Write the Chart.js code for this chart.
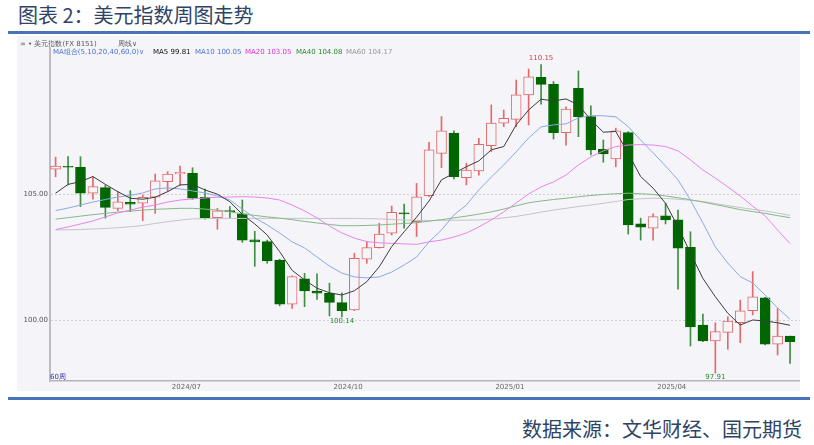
<!DOCTYPE html>
<html>
<head>
<meta charset="utf-8">
<script src="https://cdn.jsdelivr.net/npm/chart.js@4.4.1/dist/chart.umd.min.js"></script>
<style>
    html, body { margin: 0; padding: 0; background: #fff; }
    body { width: 814px; height: 445px; position: relative; overflow: hidden; font-family: "DejaVu Sans", sans-serif; }
    .title { position: absolute; left: 18px; top: 1px; font-size: 20px; line-height: 28px; font-family: "Noto Sans CJK SC", sans-serif; color: #2e4466; white-space: nowrap; }
    .rule { position: absolute; left: 8px; width: 802px; height: 3px; background: #4a72b8; }
    .panel { position: absolute; left: 17px; top: 36px; width: 783px; height: 355px; background: #f4f4f9; }
    .small { position: absolute; font-size: 7px; line-height: 9px; white-space: nowrap; }
    .source { position: absolute; right: 12px; top: 415px; font-size: 20px; line-height: 28px; font-family: "Noto Sans CJK SC", sans-serif; color: #2e4466; white-space: nowrap; }
    #chartWrap { position: absolute; left: 17px; top: 36px; width: 783px; height: 355px; }
</style>
</head>
<body>
<div class="title">图表 2：美元指数周图走势</div>
<div class="rule" style="top:31px"></div>
<div class="panel"></div>
<div id="chartWrap"><canvas id="dxyChart" width="783" height="355"></canvas></div>
<div class="small" style="left:20px; top:39.5px; color:#555">∞ • 美元指数(FX 8151)</div>
<div class="small" style="left:118px; top:39.5px; color:#555">周线∨</div>
<div id="maLegend"></div>
<div class="small" style="left:50px; top:372.5px; color:#3535a8">60周</div>
<div class="rule" style="top:397px"></div>
<div class="source">数据来源：文华财经、国元期货</div>

<script>
// Weekly bars (Monday of each week)
const weeks = [
    '2024-04-15', '2024-04-22', '2024-04-29', '2024-05-06', '2024-05-13', '2024-05-20', '2024-05-27',
    '2024-06-03', '2024-06-10', '2024-06-17', '2024-06-24', '2024-07-01', '2024-07-08', '2024-07-15',
    '2024-07-22', '2024-07-29', '2024-08-05', '2024-08-12', '2024-08-19', '2024-08-26', '2024-09-02',
    '2024-09-09', '2024-09-16', '2024-09-23', '2024-09-30', '2024-10-07', '2024-10-14', '2024-10-21',
    '2024-10-28', '2024-11-04', '2024-11-11', '2024-11-18', '2024-11-25', '2024-12-02', '2024-12-09',
    '2024-12-16', '2024-12-23', '2024-12-30', '2025-01-06', '2025-01-13', '2025-01-20', '2025-01-27',
    '2025-02-03', '2025-02-10', '2025-02-17', '2025-02-24', '2025-03-03', '2025-03-10', '2025-03-17',
    '2025-03-24', '2025-03-31', '2025-04-07', '2025-04-14', '2025-04-21', '2025-04-28', '2025-05-05',
    '2025-05-12', '2025-05-19', '2025-05-26', '2025-06-02'
];

const opens = [
    106.00, 106.12, 106.08, 105.05, 105.27, 104.45, 104.69, 104.65, 104.89, 105.51,
    105.81, 105.84, 104.89, 104.08, 104.36, 104.23, 103.20, 103.13, 102.40, 100.65,
    101.65, 101.17, 101.08, 100.71, 100.42, 102.43, 102.89, 103.46, 104.27, 103.92,
    104.95, 106.63, 107.43, 105.67, 105.93, 106.94, 107.83, 107.98, 108.95, 109.65,
    109.37, 107.45, 109.21, 108.09, 106.79, 106.41, 107.45, 103.83, 103.66, 104.15,
    103.99, 102.90, 99.82, 99.19, 99.53, 99.91, 100.39, 100.90, 99.06, 99.38
];
const highs = [
    106.48, 106.50, 106.50, 105.71, 105.38, 105.11, 105.15, 104.98, 105.81, 105.90,
    106.13, 106.06, 105.21, 104.45, 104.52, 104.78, 103.54, 103.19, 102.43, 101.77,
    101.87, 101.85, 101.48, 101.10, 102.67, 103.13, 103.86, 104.54, 104.62, 105.44,
    107.07, 108.09, 107.52, 106.24, 107.23, 108.55, 108.35, 109.54, 109.98, 110.15,
    109.48, 108.48, 109.90, 108.52, 107.16, 107.63, 107.49, 104.06, 104.23, 104.65,
    104.38, 103.52, 100.25, 99.91, 100.15, 100.81, 101.94, 100.92, 100.48, 99.38
];
const lows = [
    105.70, 105.38, 104.52, 104.81, 104.06, 104.36, 104.32, 103.96, 104.25, 105.11,
    105.35, 104.81, 104.02, 103.62, 104.06, 103.10, 102.15, 102.27, 100.58, 100.48,
    100.55, 100.84, 100.18, 100.14, 100.39, 102.27, 102.87, 103.39, 103.66, 103.33,
    104.91, 106.06, 105.62, 105.38, 105.77, 106.70, 107.69, 107.69, 107.76, 108.58,
    107.20, 106.96, 107.29, 106.57, 106.28, 106.10, 103.43, 103.19, 103.19, 103.83,
    101.24, 98.99, 99.16, 97.91, 98.86, 99.12, 100.22, 99.03, 98.63, 98.30
];
const closes = [
    106.13, 106.08, 105.05, 105.31, 104.49, 104.71, 104.61, 104.89, 105.54, 105.81,
    105.88, 104.85, 104.08, 104.35, 104.32, 103.19, 103.12, 102.36, 100.65, 101.74,
    101.17, 101.08, 100.72, 100.39, 102.47, 102.89, 103.43, 104.29, 104.23, 104.91,
    106.77, 107.52, 105.71, 105.97, 106.99, 107.83, 108.02, 108.95, 109.67, 109.37,
    107.45, 108.39, 108.09, 106.77, 106.61, 107.52, 103.79, 103.70, 104.12, 103.99,
    102.87, 99.75, 99.19, 99.56, 99.98, 100.38, 100.94, 99.06, 99.38, 99.16
];

// Moving averages as they appear on the chart
const ma5 = [
    105.05, 105.40, 105.51, 105.71, 105.40, 105.11, 104.85, 104.81, 104.89, 105.11,
    105.38, 105.40, 105.18, 105.01, 104.71, 104.21, 103.83, 103.39, 102.73, 101.99,
    101.61, 101.28, 101.10, 101.01, 101.18, 101.54, 102.13, 102.93, 103.52, 104.10,
    104.74, 105.58, 105.84, 106.10, 106.33, 106.77, 106.90, 107.76, 108.35, 108.78,
    108.71, 108.79, 108.55, 107.96, 107.47, 107.50, 106.63, 105.71, 105.25, 104.65,
    103.72, 102.67, 101.67, 100.94, 100.29, 99.82, 100.02, 99.98, 99.91, 99.81
];
const ma10 = [
    104.36, 104.46, 104.58, 104.70, 104.80, 104.90, 104.96, 105.06, 105.22, 105.26,
    105.22, 105.14, 105.06, 104.94, 104.78, 104.42, 104.07, 103.79, 103.47, 103.12,
    102.88, 102.52, 102.16, 101.88, 101.73, 101.69, 101.73, 101.92, 102.20, 102.52,
    103.12, 103.59, 104.19, 104.58, 105.18, 105.69, 106.17, 106.69, 107.24, 107.68,
    107.76, 107.80, 108.04, 108.13, 108.12, 108.08, 107.69, 107.16, 106.65, 106.13,
    105.58, 104.78, 103.87, 102.92, 102.28, 101.74, 101.49, 101.01, 100.50, 100.05
];
const ma20 = [
    103.61, 103.71, 103.83, 103.95, 104.11, 104.27, 104.38, 104.50, 104.58, 104.70,
    104.78, 104.82, 104.86, 104.89, 104.90, 104.91, 104.90, 104.86, 104.78, 104.58,
    104.35, 104.07, 103.75, 103.47, 103.27, 103.13, 103.08, 103.06, 103.04, 103.02,
    103.12, 103.19, 103.31, 103.47, 103.71, 103.99, 104.31, 104.66, 105.02, 105.30,
    105.50, 105.77, 106.17, 106.49, 106.73, 106.90, 106.96, 106.98, 106.96, 106.90,
    106.73, 106.37, 105.97, 105.65, 105.30, 104.94, 104.54, 104.15, 103.59, 103.05
];
const ma40 = [
    104.02, 104.08, 104.14, 104.20, 104.25, 104.30, 104.34, 104.38, 104.41, 104.43,
    104.45, 104.45, 104.42, 104.38, 104.31, 104.23, 104.17, 104.11, 104.06, 104.00,
    103.93, 103.87, 103.81, 103.76, 103.76, 103.77, 103.79, 103.82, 103.85, 103.88,
    103.94, 104.00, 104.07, 104.14, 104.22, 104.31, 104.42, 104.55, 104.67, 104.74,
    104.80, 104.85, 104.91, 104.96, 105.00, 105.03, 105.05, 105.03, 105.00, 104.94,
    104.87, 104.79, 104.70, 104.60, 104.50, 104.40, 104.32, 104.25, 104.16, 104.08
];
const ma60 = [
    103.59, 103.60, 103.61, 103.63, 103.65, 103.68, 103.72, 103.77, 103.85, 103.92,
    103.98, 104.03, 104.04, 104.05, 104.05, 104.05, 104.05, 104.05, 104.05, 104.05,
    104.05, 104.05, 104.05, 104.05, 104.05, 104.04, 104.03, 104.01, 103.99, 103.97,
    103.97, 103.97, 103.98, 103.98, 103.99, 104.02, 104.07, 104.13, 104.21, 104.30,
    104.38, 104.45, 104.52, 104.58, 104.65, 104.72, 104.80, 104.83, 104.85, 104.84,
    104.81, 104.77, 104.72, 104.64, 104.56, 104.48, 104.41, 104.35, 104.26, 104.17
];

const yTicks = [100, 105];
const peakBars = [40];       // 1-based bar numbers with a high label
const troughBars = [24, 54]; // 1-based bar numbers with a low label

const UP = '#e26a6a';
const DOWN = '#006600';
const DOWN_WICK = '#3f8f3f';
const PANEL = '#f4f4f9';

const maSeries = [
    { name: 'MA5', data: ma5, color: '#3c3c3c', text: '#111' },
    { name: 'MA10', data: ma10, color: '#8ea8e2', text: '#4a74d0' },
    { name: 'MA20', data: ma20, color: '#e884ea', text: '#e030d8' },
    { name: 'MA40', data: ma40, color: '#86b886', text: '#2a8a2a' },
    { name: 'MA60', data: ma60, color: '#c4c4c8', text: '#999' }
];

// MA legend strip
const legendPos = [153, 195, 245, 296, 346];
let legendHTML = '<div class="small" style="left:53px; top:48px; color:#4a74d0">MA组合(5,10,20,40,60,0)∨</div>';
maSeries.forEach((m, i) => {
    const last = m.data[m.data.length - 1];
    legendHTML += `<div class="small" style="left:${legendPos[i]}px; top:48px; color:${m.text}">${m.name} ${last.toFixed(2)}</div>`;
});
document.getElementById('maLegend').innerHTML = legendHTML;

// Quarter labels sit between the last week of a quarter and the first week of the next
function weekEnd(d) {
    const t = new Date(d + 'T00:00:00Z');
    t.setUTCDate(t.getUTCDate() + 4);
    return t;
}
const xTicks = [];
for (let i = 1; i < weeks.length; i++) {
    const a = weekEnd(weeks[i - 1]);
    const b = weekEnd(weeks[i]);
    if (a.getUTCMonth() !== b.getUTCMonth() && b.getUTCMonth() % 3 === 0) {
        xTicks.push({ value: i + 0.5, text: b.getUTCFullYear() + '/' + String(b.getUTCMonth() + 1).padStart(2, '0') });
    }
}

const isUp = closes.map((c, i) => c >= opens[i]);

const bodyData = weeks.map((w, i) => ({ x: i + 1, y: [opens[i], closes[i]] }));
const wickData = weeks.map((w, i) => ({ x: i + 1, y: [lows[i], highs[i]] }));

// Labels for the extreme high / lows
const extremeLabels = {
    id: 'extremeLabels',
    afterDatasetsDraw(chart) {
        const { ctx, scales: { x, y } } = chart;
        ctx.save();
        ctx.font = '7px "DejaVu Sans"';
        ctx.textAlign = 'center';
        ctx.fillStyle = '#d04848';
        ctx.textBaseline = 'bottom';
        peakBars.forEach(n => {
            ctx.fillText(highs[n - 1].toFixed(2), x.getPixelForValue(n), y.getPixelForValue(highs[n - 1]) - 3);
        });
        ctx.fillStyle = '#2a8a2a';
        ctx.textBaseline = 'top';
        troughBars.forEach(n => {
            ctx.fillText(lows[n - 1].toFixed(2), x.getPixelForValue(n), y.getPixelForValue(lows[n - 1]) + 1);
        });
        ctx.restore();
    }
};

Chart.defaults.font.family = '"DejaVu Sans", sans-serif';

new Chart(document.getElementById('dxyChart'), {
    type: 'bar',
    data: {
        datasets: [
            ...maSeries.map(m => ({
                type: 'line',
                label: m.name,
                data: m.data.map((v, i) => ({ x: i + 1, y: v })),
                borderColor: m.color,
                borderWidth: 1,
                pointRadius: 0,
                tension: 0,
                order: 0
            })),
            {
                label: 'body',
                data: bodyData,
                grouped: false,
                barThickness: 10,
                backgroundColor: isUp.map(u => u ? PANEL : DOWN),
                borderColor: isUp.map(u => u ? UP : DOWN),
                borderWidth: 1,
                borderSkipped: false,
                order: 1
            },
            {
                label: 'wick',
                data: wickData,
                grouped: false,
                barThickness: 1,
                backgroundColor: isUp.map(u => u ? UP : DOWN_WICK),
                borderWidth: 0,
                order: 2
            }
        ]
    },
    options: {
        responsive: false,
        animation: false,
        devicePixelRatio: 1,
        layout: { padding: { top: 12, right: 0, left: 0, bottom: 0 } },
        plugins: {
            legend: { display: false },
            tooltip: { enabled: false }
        },
        scales: {
            x: {
                type: 'linear',
                min: 0.55,
                max: 60.8,
                offset: false,
                grid: { display: false, drawTicks: false },
                border: { color: '#b4b4bc', width: 1.5 },
                afterBuildTicks: s => { s.ticks = xTicks.map(t => ({ value: t.value, text: t.text })); },
                afterFit: s => { s.height = 10; },
                ticks: {
                    autoSkip: false,
                    maxRotation: 0,
                    padding: 2,
                    color: '#666',
                    font: { size: 7 },
                    callback: (v, i, ticks) => ticks[i].text
                }
            },
            y: {
                min: 97.6,
                max: 110.81,
                grid: { color: '#cfcfd6', drawTicks: false },
                border: { color: '#bcbcc4', width: 2, dash: [2, 2] },
                afterBuildTicks: s => { s.ticks = yTicks.map(v => ({ value: v })); },
                afterFit: s => { s.width = 33; },
                ticks: {
                    padding: 2,
                    color: '#555',
                    font: { size: 7 },
                    callback: v => v.toFixed(2)
                }
            }
        }
    },
    plugins: [extremeLabels]
});
</script>
</body>
</html>
